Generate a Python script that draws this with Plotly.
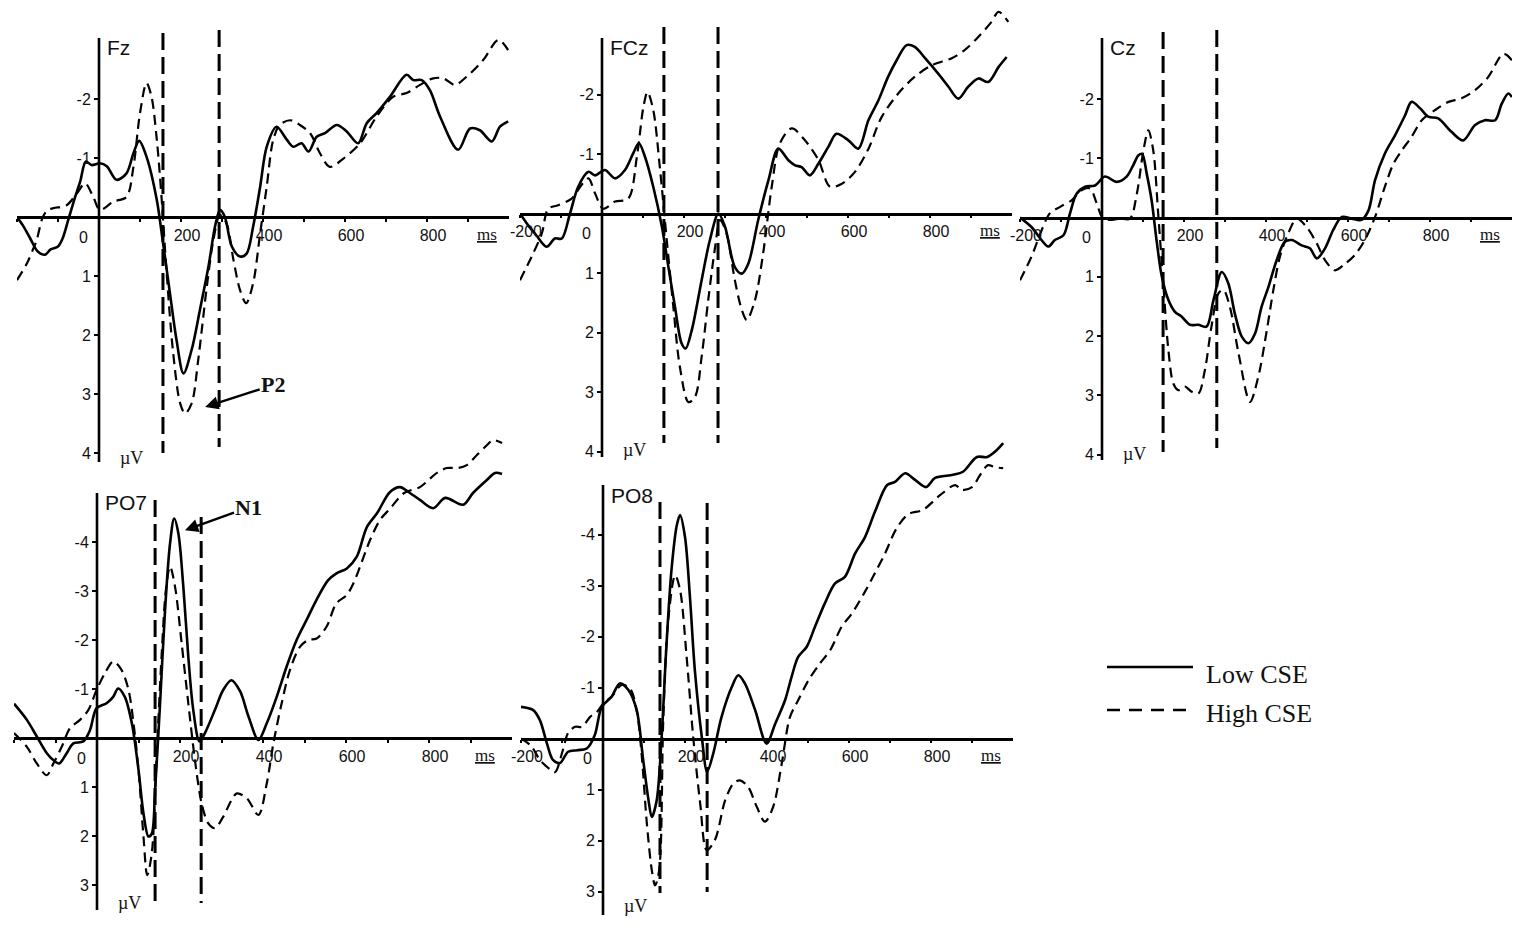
import plotly.graph_objects as go

# ---------------- data (ms, µV; negative plotted upward) ----------------
fz_low_ms = [-200, -185, -168, -150, -132, -118, -100, -88, -75, -60, -46, -32, -18, 2, 19, 43, 67, 84, 98, 116, 141, 153, 173, 189, 206, 226, 246, 267, 283, 295, 307, 324, 344, 360, 376, 393, 409, 433, 458, 474, 494, 511, 531, 551, 580, 604, 632, 653, 677, 710, 750, 767, 787, 807, 832, 876, 905, 929, 958, 978, 998]
fz_low_uv = [0.0, 0.15, 0.36, 0.58, 0.64, 0.55, 0.5, 0.35, 0.05, -0.3, -0.6, -0.94, -0.88, -0.91, -0.86, -0.63, -0.74, -1.08, -1.29, -1.02, -0.29, 0.28, 1.29, 2.08, 2.65, 2.25, 1.58, 0.84, 0.16, -0.12, 0.0, 0.5, 0.67, 0.62, 0.16, -0.51, -1.19, -1.53, -1.31, -1.19, -1.25, -1.11, -1.36, -1.42, -1.56, -1.45, -1.25, -1.59, -1.76, -2.04, -2.41, -2.32, -2.32, -2.15, -1.7, -1.14, -1.5, -1.47, -1.28, -1.53, -1.62]
fz_high_ms = [-200, -176, -161, -152, -137, -125, -111, -79, -54, -34, -14, 2, 35, 67, 84, 100, 116, 128, 141, 153, 165, 181, 198, 210, 226, 242, 263, 279, 295, 311, 328, 344, 359, 376, 393, 409, 425, 441, 466, 490, 515, 539, 563, 596, 637, 677, 718, 750, 783, 815, 840, 868, 897, 937, 974, 998]
fz_high_uv = [1.07, 0.79, 0.55, 0.39, 0.0, -0.12, -0.15, -0.2, -0.4, -0.57, -0.34, -0.12, -0.26, -0.34, -0.85, -1.76, -2.27, -2.04, -1.31, -0.29, 0.95, 2.31, 3.16, 3.33, 3.16, 2.42, 1.18, 0.39, -0.03, 0.11, 0.73, 1.24, 1.46, 1.12, 0.28, -0.51, -1.31, -1.56, -1.64, -1.56, -1.42, -1.08, -0.85, -0.99, -1.25, -1.7, -2.04, -2.1, -2.24, -2.35, -2.35, -2.24, -2.38, -2.66, -3.0, -2.83]

fcz_low_ms = [-200, -180, -163, -135, -115, -98, -78, -58, -33, -17, 7, 32, 56, 76, 90, 105, 125, 146, 162, 178, 194, 204, 219, 243, 263, 284, 300, 324, 341, 357, 381, 406, 430, 454, 471, 487, 507, 528, 552, 572, 601, 625, 650, 674, 698, 719, 743, 763, 788, 820, 845, 869, 893, 918, 942, 967, 987]
fcz_low_uv = [0.0, 0.2, 0.34, 0.56, 0.42, 0.42, 0.0, -0.45, -0.7, -0.64, -0.73, -0.59, -0.73, -1.01, -1.18, -0.95, -0.45, 0.22, 0.9, 1.57, 2.18, 2.27, 1.96, 1.12, 0.45, 0.0, 0.22, 0.9, 1.01, 0.84, 0.11, -0.56, -1.09, -0.9, -0.81, -0.78, -0.64, -0.84, -1.12, -1.34, -1.23, -1.09, -1.57, -1.9, -2.3, -2.58, -2.83, -2.8, -2.61, -2.35, -2.13, -1.93, -2.13, -2.27, -2.21, -2.46, -2.63]
fcz_high_ms = [-200, -172, -147, -131, -107, -74, -50, -33, -17, 3, 32, 64, 85, 101, 111, 125, 141, 158, 174, 190, 211, 227, 243, 259, 276, 288, 304, 324, 341, 353, 373, 393, 414, 434, 463, 495, 528, 556, 585, 617, 650, 682, 723, 763, 804, 853, 885, 918, 950, 967, 991]
fcz_high_uv = [1.12, 0.73, 0.34, -0.08, -0.14, -0.25, -0.48, -0.59, -0.34, -0.08, -0.2, -0.25, -0.95, -1.79, -2.04, -1.74, -0.78, 0.45, 1.57, 2.58, 3.17, 3.08, 2.41, 1.46, 0.56, 0.11, 0.34, 1.12, 1.62, 1.79, 1.46, 0.67, -0.45, -1.18, -1.43, -1.23, -0.9, -0.45, -0.5, -0.7, -1.09, -1.62, -2.02, -2.3, -2.49, -2.61, -2.75, -2.97, -3.22, -3.39, -3.22]

cz_low_ms = [-200, -172, -151, -131, -115, -94, -78, -62, -41, -17, 7, 36, 60, 76, 89, 98, 109, 121, 133, 146, 162, 178, 194, 215, 235, 255, 272, 292, 308, 324, 341, 357, 373, 389, 406, 426, 446, 463, 487, 507, 524, 544, 564, 585, 609, 633, 650, 666, 690, 715, 739, 755, 776, 796, 820, 853, 881, 910, 934, 959, 975, 991, 1000]
cz_low_uv = [0.0, 0.16, 0.35, 0.49, 0.38, 0.3, -0.07, -0.4, -0.52, -0.54, -0.69, -0.6, -0.69, -0.88, -1.05, -1.07, -0.74, -0.29, 0.38, 1.0, 1.39, 1.59, 1.67, 1.81, 1.81, 1.84, 1.39, 0.92, 1.11, 1.62, 2.01, 2.12, 1.96, 1.51, 1.17, 0.72, 0.41, 0.38, 0.47, 0.52, 0.69, 0.52, 0.21, -0.01, 0.02, 0.04, -0.12, -0.63, -1.08, -1.39, -1.72, -1.95, -1.84, -1.7, -1.67, -1.44, -1.3, -1.56, -1.64, -1.64, -1.92, -2.09, -2.03]
cz_high_ms = [-200, -172, -147, -127, -102, -74, -50, -29, -13, 3, 24, 44, 68, 85, 101, 113, 125, 137, 150, 162, 174, 186, 202, 219, 235, 251, 267, 284, 296, 312, 333, 361, 381, 402, 418, 434, 454, 475, 499, 524, 544, 568, 593, 617, 641, 666, 690, 711, 731, 755, 780, 812, 845, 877, 910, 942, 979, 1000]
cz_high_uv = [1.06, 0.66, 0.21, -0.07, -0.18, -0.29, -0.46, -0.49, -0.24, 0.02, 0.04, 0.02, 0.02, -0.4, -1.13, -1.47, -1.13, -0.07, 1.17, 2.24, 2.8, 2.91, 2.85, 2.94, 2.97, 2.57, 1.84, 1.28, 1.22, 1.51, 2.29, 3.11, 2.69, 1.9, 1.22, 0.66, 0.27, 0.02, 0.16, 0.44, 0.72, 0.89, 0.78, 0.63, 0.38, -0.01, -0.52, -0.91, -1.13, -1.36, -1.64, -1.81, -1.95, -2.01, -2.15, -2.37, -2.76, -2.65]

po7_low_ms = [-200, -169, -145, -121, -101, -91, -73, -57, -33, -17, -1, 23, 39, 51, 67, 84, 100, 112, 124, 132, 140, 152, 164, 176, 186, 196, 208, 220, 232, 247, 260, 284, 304, 324, 345, 365, 389, 409, 433, 457, 481, 505, 529, 557, 577, 602, 626, 650, 675, 706, 730, 754, 778, 810, 839, 882, 906, 940, 959, 976]
po7_low_uv = [-0.7, -0.37, -0.03, 0.31, 0.48, 0.52, 0.31, 0.11, 0.07, -0.16, -0.61, -0.71, -0.84, -1.01, -0.84, -0.3, 0.65, 1.54, 2.01, 1.95, 1.06, -0.71, -2.61, -3.97, -4.48, -4.18, -3.09, -1.66, -0.57, 0.07, -0.1, -0.57, -0.98, -1.18, -0.95, -0.44, 0.04, -0.3, -0.84, -1.46, -2.0, -2.41, -2.82, -3.22, -3.36, -3.46, -3.7, -4.3, -4.59, -5.02, -5.12, -5.0, -4.86, -4.69, -4.9, -4.76, -5.0, -5.27, -5.41, -5.39]
po7_high_ms = [-200, -169, -145, -121, -105, -85, -65, -41, -21, -1, 19, 39, 59, 76, 88, 100, 112, 121, 132, 144, 156, 166, 176, 188, 204, 220, 236, 252, 268, 284, 304, 324, 337, 361, 389, 409, 425, 445, 465, 489, 509, 529, 553, 577, 602, 618, 634, 658, 682, 706, 740, 778, 819, 843, 870, 891, 916, 940, 954, 976]
po7_high_uv = [-0.1, 0.18, 0.52, 0.76, 0.52, 0.18, -0.2, -0.37, -0.57, -0.98, -1.32, -1.56, -1.39, -0.98, -0.3, 0.65, 2.01, 2.8, 2.35, 0.31, -1.73, -3.02, -3.5, -3.09, -1.93, -0.71, 0.45, 1.33, 1.74, 1.84, 1.61, 1.27, 1.13, 1.23, 1.57, 0.93, 0.11, -0.71, -1.39, -1.86, -2.0, -2.03, -2.27, -2.75, -2.92, -3.16, -3.5, -4.04, -4.45, -4.68, -5.0, -5.12, -5.41, -5.51, -5.51, -5.57, -5.78, -5.98, -6.08, -6.02]

po8_low_ms = [-200, -171, -154, -137, -122, -105, -85, -63, -39, -20, -3, 21, 41, 62, 82, 98, 111, 119, 131, 143, 155, 167, 180, 188, 200, 212, 224, 241, 254, 269, 289, 314, 330, 346, 371, 399, 420, 444, 460, 476, 497, 517, 541, 566, 590, 615, 639, 663, 693, 712, 737, 761, 788, 810, 854, 878, 912, 937, 961, 976]
po8_low_uv = [-0.62, -0.56, -0.36, 0.09, 0.42, 0.48, 0.26, 0.23, 0.19, -0.07, -0.62, -0.82, -1.08, -0.95, -0.56, 0.42, 1.21, 1.54, 1.21, -0.03, -1.86, -3.3, -4.18, -4.38, -3.95, -2.78, -1.34, -0.03, 0.65, 0.29, -0.42, -1.01, -1.24, -1.08, -0.56, 0.1, -0.29, -0.75, -1.21, -1.6, -1.8, -2.19, -2.65, -3.04, -3.17, -3.63, -3.95, -4.44, -4.97, -5.03, -5.2, -5.07, -4.93, -5.11, -5.17, -5.23, -5.52, -5.52, -5.66, -5.79]
po8_high_ms = [-200, -175, -154, -130, -117, -98, -85, -68, -51, -32, -15, 1, 21, 46, 66, 82, 94, 107, 119, 127, 137, 147, 159, 176, 188, 204, 220, 237, 253, 273, 298, 318, 334, 354, 375, 395, 415, 436, 456, 476, 501, 529, 554, 582, 607, 639, 663, 688, 716, 745, 780, 822, 859, 875, 900, 920, 939, 956, 976]
po8_high_uv = [0.0, 0.15, 0.42, 0.6, 0.66, 0.23, -0.11, -0.23, -0.23, -0.42, -0.52, -0.69, -0.82, -1.05, -0.98, -0.56, 0.29, 1.67, 2.58, 2.88, 2.58, -0.36, -2.32, -3.2, -2.91, -1.6, -0.03, 1.27, 2.19, 1.99, 1.21, 0.88, 0.82, 0.95, 1.34, 1.63, 1.34, 0.49, -0.42, -0.75, -1.14, -1.47, -1.73, -2.19, -2.45, -2.88, -3.24, -3.63, -4.12, -4.4, -4.48, -4.77, -4.97, -4.87, -4.93, -5.17, -5.36, -5.32, -5.3]

electrodes = ["Fz", "FCz", "Cz", "PO7", "PO8"]
cursor_ms = {"Fz": [156, 293], "FCz": [151, 283], "Cz": [149, 280], "PO7": [140, 251], "PO8": [139, 254]}
series_names = ["Low CSE", "High CSE"]
x_tick_vals = [-200, -100, 0, 100, 200, 300, 400, 500, 600, 700, 800, 900]
x_tick_text = ["-200", "", "", "", "200", "", "400", "", "600", "", "800", ""]
y_ticks_top = [-2, -1, 1, 2, 3, 4]
y_ticks_bottom = [-4, -3, -2, -1, 1, 2, 3]

curves = {
    "Fz": ((fz_low_ms, fz_low_uv), (fz_high_ms, fz_high_uv)),
    "FCz": ((fcz_low_ms, fcz_low_uv), (fcz_high_ms, fcz_high_uv)),
    "Cz": ((cz_low_ms, cz_low_uv), (cz_high_ms, cz_high_uv)),
    "PO7": ((po7_low_ms, po7_low_uv), (po7_high_ms, po7_high_uv)),
    "PO8": ((po8_low_ms, po8_low_uv), (po8_high_ms, po8_high_uv)),
}

# ---------------- layout geometry (screen pixels) ----------------
PAGE_MARGIN = 8            # default <body> margin of the html page
W, H = 1535 - 2 * PAGE_MARGIN, 928 - 2 * PAGE_MARGIN - 2
geom = {
    "Fz":  dict(t0=99,  sx=0.41,  v0=217,   sy=59.0, top=18,  bot=472, axis=(38, 462), cur=((33, 453), (30, 447)), ticks=y_ticks_top, unit_dy=4),
    "FCz": dict(t0=602, sx=0.41,  v0=213.5, sy=59.5, top=8,   bot=472, axis=(38, 457), cur=((27, 443), (27, 443)), ticks=y_ticks_top, unit_dy=7),
    "Cz":  dict(t0=1102, sx=0.41, v0=217.5, sy=59.3, top=18,  bot=472, axis=(38, 460), cur=((32, 452), (30, 448)), ticks=y_ticks_top, unit_dy=6),
    "PO7": dict(t0=97,  sx=0.415, v0=738,   sy=49.0, top=425, bot=918, axis=(493, 910), cur=((500, 903), (517, 903)), ticks=y_ticks_bottom, unit_dy=7),
    "PO8": dict(t0=603, sx=0.41,  v0=738.5, sy=51.0, top=425, bot=918, axis=(485, 915), cur=((502, 893), (503, 892)), ticks=y_ticks_bottom, unit_dy=9),
}

SANS = "Liberation Sans, Arial, sans-serif"
SERIF = "Liberation Serif, Times New Roman, serif"
INK = "#111111"

def clamp(v):
    return min(1.0, max(0.0, v))

def px(x):
    return (x - PAGE_MARGIN) / W

def py(y):
    return 1 - (y - PAGE_MARGIN) / H

fig = go.Figure()
shapes = []
annotations = []
layout_axes = {}

for i, name in enumerate(electrodes):
    g = geom[name]
    sfx = "" if i == 0 else str(i + 1)
    xref, yref = "x" + sfx, "y" + sfx
    val = lambda ypix, g=g: (ypix - g["v0"]) / g["sy"]

    (lo_t, lo_v), (hi_t, hi_v) = curves[name]
    fig.add_trace(go.Scatter(x=lo_t, y=lo_v, xaxis=xref, yaxis=yref, mode="lines",
                             name=series_names[0], showlegend=False,
                             line=dict(color="black", width=2.6, shape="spline", smoothing=0.9)))
    fig.add_trace(go.Scatter(x=hi_t, y=hi_v, xaxis=xref, yaxis=yref, mode="lines",
                             name=series_names[1], showlegend=False,
                             line=dict(color="black", width=2.2, dash="10px,6px", shape="spline", smoothing=0.9)))

    layout_axes["xaxis" + sfx] = dict(
        domain=[clamp(px(g["t0"] - 200 * g["sx"])), clamp(px(g["t0"] + 1000 * g["sx"]))],
        range=[-200, 1000], anchor="free", position=clamp(py(g["v0"])),
        showline=True, linewidth=2.5, linecolor="black", mirror=False,
        ticks="outside", ticklen=3, tickwidth=1.5, tickcolor="black",
        tickvals=x_tick_vals, ticktext=x_tick_text, ticklabelshift=6,
        tickfont=dict(family=SANS, size=16, color=INK), automargin=False,
        showgrid=False, zeroline=False, fixedrange=True,
    )
    layout_axes["yaxis" + sfx] = dict(
        domain=[clamp(py(g["bot"])), clamp(py(g["top"]))],
        range=[val(g["bot"]), val(g["top"])], anchor="free", position=clamp(px(g["t0"])),
        showline=False, ticks="outside", ticklen=5, tickwidth=2, tickcolor="black",
        tickvals=g["ticks"], ticktext=[str(v) for v in g["ticks"]],
        tickfont=dict(family=SANS, size=16, color=INK), automargin=False,
        showgrid=False, zeroline=False, fixedrange=True,
    )

    # vertical axis line at 0 ms
    shapes.append(dict(type="line", xref=xref, yref=yref, x0=0, x1=0,
                       y0=val(g["axis"][0]), y1=val(g["axis"][1]),
                       line=dict(color="black", width=2.6)))
    # analysis window cursors
    for t, (ct, cb) in zip(cursor_ms[name], g["cur"]):
        shapes.append(dict(type="line", xref=xref, yref=yref, x0=t, x1=t,
                           y0=val(ct), y1=val(cb),
                           line=dict(color="black", width=3, dash="17px,7px")))

    t0, v0 = g["t0"], g["v0"]
    ax_top, ax_bot = g["axis"]
    annotations.append(dict(xref="paper", yref="paper", x=px(t0 + 6), y=py(ax_top + 10),
                            text=name, showarrow=False, xanchor="left", yanchor="middle",
                            font=dict(family=SANS, size=21, color=INK)))
    annotations.append(dict(xref="paper", yref="paper", x=px(t0 + 32), y=py(ax_bot - g["unit_dy"]),
                            text="µV", showarrow=False, xanchor="center", yanchor="middle",
                            font=dict(family=SERIF, size=18, color=INK)))
    annotations.append(dict(xref="paper", yref="paper", x=px(t0 + 388), y=py(v0 + 17),
                            text="<u>ms</u>", showarrow=False, xanchor="center", yanchor="middle",
                            font=dict(family=SERIF, size=17, color=INK)))
    annotations.append(dict(xref="paper", yref="paper", x=px(t0 - 16), y=py(v0 + 20),
                            text="0", showarrow=False, xanchor="center", yanchor="middle",
                            font=dict(family=SANS, size=16, color=INK)))

# component labels with arrows
annotations.append(dict(xref="x", yref="y", x=259, y=3.22, ax=68, ay=-22,
                        text="<b>P2</b>", showarrow=True, arrowhead=2, arrowsize=1.1,
                        arrowwidth=2.4, arrowcolor="black", standoff=0,
                        font=dict(family=SERIF, size=22, color=INK)))
annotations.append(dict(xref="x4", yref="y4", x=212, y=-4.24, ax=64, ay=-23,
                        text="<b>N1</b>", showarrow=True, arrowhead=2, arrowsize=1.1,
                        arrowwidth=2.4, arrowcolor="black", standoff=0,
                        font=dict(family=SERIF, size=22, color=INK)))

# legend (drawn manually to match the long swatches)
shapes.append(dict(type="line", xref="paper", yref="paper", x0=px(1107), x1=px(1193),
                   y0=py(667), y1=py(667), line=dict(color="black", width=2.6)))
shapes.append(dict(type="line", xref="paper", yref="paper", x0=px(1107), x1=px(1190),
                   y0=py(710), y1=py(710), line=dict(color="black", width=2.6, dash="13px,9px")))
annotations.append(dict(xref="paper", yref="paper", x=px(1204), y=py(674), text=series_names[0],
                        showarrow=False, xanchor="left", yanchor="middle",
                        font=dict(family=SERIF, size=26, color=INK)))
annotations.append(dict(xref="paper", yref="paper", x=px(1204), y=py(713), text=series_names[1],
                        showarrow=False, xanchor="left", yanchor="middle",
                        font=dict(family=SERIF, size=26, color=INK)))

fig.update_layout(
    width=W, height=H, autosize=False,
    margin=dict(l=0, r=0, t=0, b=0, pad=0, autoexpand=False),
    paper_bgcolor="white", plot_bgcolor="rgba(0,0,0,0)",
    showlegend=False, shapes=shapes, annotations=annotations,
    **layout_axes,
)

fig.write_html("out.html")
